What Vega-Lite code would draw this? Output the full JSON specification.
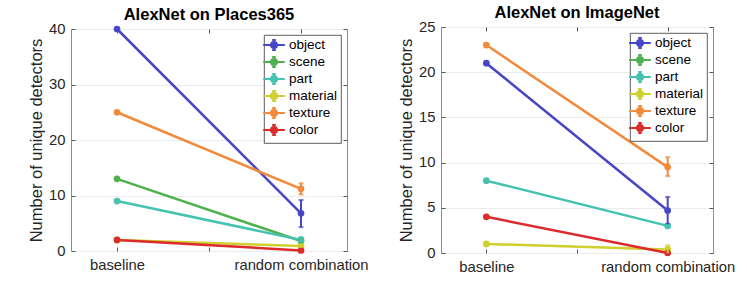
{
  "$schema": "https://vega.github.io/schema/vega-lite/v6.json",
  "padding": {"left": 28, "top": 4, "right": 5, "bottom": 5},
  "datasets": {
    "d": [
      {"model": "Places365", "cat": "object", "cond": "baseline", "val": 40},
      {"model": "Places365", "cat": "object", "cond": "random combination", "val": 6.8, "lo": 4.3, "hi": 9.2},
      {"model": "Places365", "cat": "scene", "cond": "baseline", "val": 13},
      {"model": "Places365", "cat": "scene", "cond": "random combination", "val": 1.8, "lo": 1.5, "hi": 2.1},
      {"model": "Places365", "cat": "part", "cond": "baseline", "val": 9},
      {"model": "Places365", "cat": "part", "cond": "random combination", "val": 2.0, "lo": 1.6, "hi": 2.5},
      {"model": "Places365", "cat": "material", "cond": "baseline", "val": 2},
      {"model": "Places365", "cat": "material", "cond": "random combination", "val": 0.9, "lo": 0.7, "hi": 1.1},
      {"model": "Places365", "cat": "texture", "cond": "baseline", "val": 25},
      {"model": "Places365", "cat": "texture", "cond": "random combination", "val": 11.2, "lo": 10.2, "hi": 12.2},
      {"model": "Places365", "cat": "color", "cond": "baseline", "val": 2},
      {"model": "Places365", "cat": "color", "cond": "random combination", "val": 0.1, "lo": 0.0, "hi": 0.2},
      {"model": "ImageNet", "cat": "object", "cond": "baseline", "val": 21},
      {"model": "ImageNet", "cat": "object", "cond": "random combination", "val": 4.7, "lo": 3.2, "hi": 6.2},
      {"model": "ImageNet", "cat": "part", "cond": "baseline", "val": 8},
      {"model": "ImageNet", "cat": "part", "cond": "random combination", "val": 3.0, "lo": 2.9, "hi": 3.1},
      {"model": "ImageNet", "cat": "material", "cond": "baseline", "val": 1},
      {"model": "ImageNet", "cat": "material", "cond": "random combination", "val": 0.4, "lo": 0.0, "hi": 0.85},
      {"model": "ImageNet", "cat": "texture", "cond": "baseline", "val": 23},
      {"model": "ImageNet", "cat": "texture", "cond": "random combination", "val": 9.5, "lo": 8.5, "hi": 10.6},
      {"model": "ImageNet", "cat": "color", "cond": "baseline", "val": 4},
      {"model": "ImageNet", "cat": "color", "cond": "random combination", "val": 0.0, "lo": 0.0, "hi": 0.0}
    ]
  },
  "hconcat": [
    {
      "width": 276, "height": 222,
      "title": {"text": "AlexNet on Places365"},
      "data": {"name": "d"},
      "transform": [{"filter": "datum.model == 'Places365'"}],
      "resolve": {"axis": {"x": "independent", "y": "independent"}},
      "layer": [
        {
          "mark": {"type": "line", "strokeWidth": 2.5},
          "encoding": {
            "x": {"field": "cond", "type": "nominal", "sort": null,
                  "scale": {"type": "point", "domain": ["baseline", "mid", "random combination"], "padding": 0.5},
                  "axis": {"orient": "bottom", "title": null, "labelAngle": 0, "labelExpr": "datum.value == 'mid' ? '' : datum.value"}},
            "y": {"field": "val", "type": "quantitative",
                  "scale": {"domain": [0, 40], "nice": false},
                  "axis": {"orient": "left", "title": "Number of unique detectors", "values": [0, 10, 20, 30, 40], "grid": true}},
            "color": {"field": "cat", "type": "nominal",
                      "scale": {"domain": ["object", "scene", "part", "material", "texture", "color"],
                                "range": ["#4646c6", "#4fb04f", "#45c2b0", "#cfcf2e", "#f28a3c", "#dc2b2b"]},
                      "legend": {"title": null}},
            "detail": {"field": "cat"}
          }
        },
        {
          "mark": {"type": "point", "filled": true, "opacity": 1, "size": 45},
          "encoding": {
            "x": {"field": "cond", "type": "nominal", "axis": {"orient": "top", "title": null, "labels": false, "minExtent": 0, "maxExtent": 0}},
            "y": {"field": "val", "type": "quantitative", "axis": {"orient": "right", "title": null, "labels": false, "values": [0, 10, 20, 30, 40], "minExtent": 0, "maxExtent": 0}},
            "color": {"field": "cat", "type": "nominal"}
          }
        },
        {
          "transform": [{"filter": "isValid(datum.lo)"}],
          "mark": {"type": "errorbar", "ticks": {"size": 5, "thickness": 2}, "rule": {"strokeWidth": 2}},
          "encoding": {
            "x": {"field": "cond", "type": "nominal", "axis": null},
            "y": {"field": "lo", "type": "quantitative", "axis": null},
            "y2": {"field": "hi"},
            "color": {"field": "cat", "type": "nominal"}
          }
        }
      ]
    },
    {
      "width": 272, "height": 226,
      "title": {"text": "AlexNet on ImageNet"},
      "data": {"name": "d"},
      "transform": [{"filter": "datum.model == 'ImageNet'"}],
      "resolve": {"axis": {"x": "independent", "y": "independent"}},
      "layer": [
        {
          "mark": {"type": "line", "strokeWidth": 2.5},
          "encoding": {
            "x": {"field": "cond", "type": "nominal", "sort": null,
                  "scale": {"type": "point", "domain": ["baseline", "mid", "random combination"], "padding": 0.5},
                  "axis": {"orient": "bottom", "title": null, "labelAngle": 0, "labelExpr": "datum.value == 'mid' ? '' : datum.value"}},
            "y": {"field": "val", "type": "quantitative",
                  "scale": {"domain": [0, 25], "nice": false},
                  "axis": {"orient": "left", "title": "Number of unique detectors", "values": [0, 5, 10, 15, 20, 25], "grid": true}},
            "color": {"field": "cat", "type": "nominal",
                      "scale": {"domain": ["object", "scene", "part", "material", "texture", "color"],
                                "range": ["#4646c6", "#4fb04f", "#45c2b0", "#cfcf2e", "#f28a3c", "#dc2b2b"]},
                      "legend": {"title": null}},
            "detail": {"field": "cat"}
          }
        },
        {
          "mark": {"type": "point", "filled": true, "opacity": 1, "size": 45},
          "encoding": {
            "x": {"field": "cond", "type": "nominal", "axis": {"orient": "top", "title": null, "labels": false, "minExtent": 0, "maxExtent": 0}},
            "y": {"field": "val", "type": "quantitative", "axis": {"orient": "right", "title": null, "labels": false, "values": [0, 5, 10, 15, 20, 25], "minExtent": 0, "maxExtent": 0}},
            "color": {"field": "cat", "type": "nominal"}
          }
        },
        {
          "transform": [{"filter": "isValid(datum.lo)"}],
          "mark": {"type": "errorbar", "ticks": {"size": 5, "thickness": 2}, "rule": {"strokeWidth": 2}},
          "encoding": {
            "x": {"field": "cond", "type": "nominal", "axis": null},
            "y": {"field": "lo", "type": "quantitative", "axis": null},
            "y2": {"field": "hi"},
            "color": {"field": "cat", "type": "nominal"}
          }
        }
      ]
    }
  ],
  "bounds": "flush",
  "spacing": 94,
  "center": true,
  "resolve": {"scale": {"color": "independent"}, "legend": {"color": "independent"}},
  "config": {
    "font": "Liberation Sans",
    "view": {"stroke": "#8c8c8c", "strokeWidth": 1},
    "title": {"fontSize": 16.5, "fontWeight": "bold", "color": "#000000", "offset": -2, "anchor": "middle", "frame": "group", "font": "Liberation Sans"},
    "axis": {
      "domain": false,
      "labelFontSize": 14.8, "labelColor": "#262626", "labelPadding": 10,
      "titleFontSize": 16.5, "titleColor": "#262626", "titleFontWeight": "normal", "titlePadding": 4,
      "tickColor": "#555555", "tickSize": -4, "tickWidth": 1,
      "grid": false, "gridColor": "#ebebeb", "gridWidth": 1
    },
    "legend": {
      "orient": "top-right", "offset": 6, "padding": 3,
      "strokeColor": "#333333", "strokeWidth": 0.8, "fillColor": "#ffffff",
      "labelFontSize": 13.5, "labelColor": "#000000", "labelOffset": 8,
      "symbolType": "M-1.8,0H1.8M0,-0.85V0.85M-0.3,-0.85H0.3M-0.3,0.85H0.3M0.5,0A0.5,0.5,0,1,1,-0.5,0A0.5,0.5,0,1,1,0.5,0Z",
      "symbolSize": 144, "symbolStrokeWidth": 2, "rowPadding": -3
    }
  }
}
